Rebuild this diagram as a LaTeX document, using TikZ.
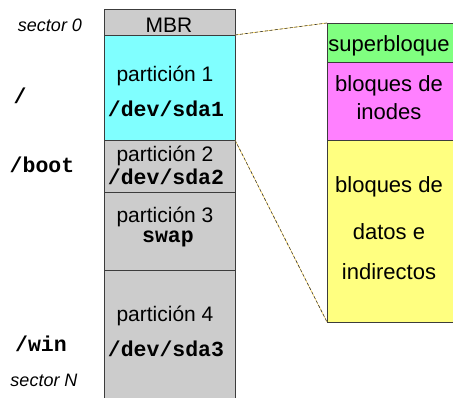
\documentclass[tikz,border=0pt]{standalone}
\usepackage{fontspec}
\setmainfont{Liberation Sans}
\setmonofont{Liberation Mono}
\definecolor{diskgray}{RGB}{204,204,204}
\definecolor{pcyan}{RGB}{128,255,255}
\definecolor{pgreen}{RGB}{128,255,128}
\definecolor{pmagenta}{RGB}{255,128,255}
\definecolor{pyellow}{RGB}{255,255,128}
\definecolor{edge}{RGB}{60,60,60}
\begin{document}
\begin{tikzpicture}[x=1pt,y=-1pt,
  blk/.style={draw=edge,line width=0.8pt,inner sep=0pt,outer sep=0pt,anchor=north west},
  txt/.style={anchor=base,inner sep=0pt,font=\fontsize{21}{25}\selectfont},
  rtxt/.style={anchor=base,inner sep=0pt,font=\fontsize{22}{26}\selectfont},
  mono/.style={anchor=base,inner sep=0pt,font=\fontsize{21.5}{25}\selectfont\ttfamily\bfseries},
  sect/.style={anchor=base,inner sep=0pt,font=\fontsize{18}{21}\selectfont\itshape},
  zoomline/.style={pyellow!70!orange,line width=0.6pt},
  zoomdash/.style={edge,line width=0.6pt,dash pattern=on 3pt off 2pt}]
\useasboundingbox (0,0) rectangle (453,398);
\begin{scope}
\clip (0,0) rectangle (453,398);
% disk partitions
\node[blk,fill=diskgray,minimum width=131pt,minimum height=26pt] (mbr) at (104,9) {};
\node[blk,fill=pcyan,minimum width=131pt,minimum height=105pt] (p1) at (104,35) {};
\node[blk,fill=diskgray,minimum width=131pt,minimum height=52pt] (p2) at (104,140) {};
\node[blk,fill=diskgray,minimum width=131pt,minimum height=78pt] (p3) at (104,192) {};
\node[blk,fill=diskgray,minimum width=131pt,minimum height=140pt] (p4) at (104,270) {};
% file system layout of partition 1
\node[blk,fill=pgreen,minimum width=130pt,minimum height=39pt] (sb) at (327,23) {};
\node[blk,fill=pmagenta,minimum width=130pt,minimum height=78pt] (ino) at (327,62) {};
\node[blk,fill=pyellow,minimum width=130pt,minimum height=182pt] (dat) at (327,140) {};
\end{scope}
% zoom lines
\draw[zoomline] (mbr.south east) -- (sb.north west);
\draw[zoomdash] (mbr.south east) -- (sb.north west);
\draw[zoomline] (p1.south east) -- (dat.south west);
\draw[zoomdash] (p1.south east) -- (dat.south west);
% partition labels
\node[txt] (tmbr) at (169,33) {MBR};
\node[txt] (t1) at (165,81.5) {partición 1};
\node[mono] (d1) at (166,117) {/dev/sda1};
\node[txt] (t2) at (165,162) {partición 2};
\node[mono] (d2) at (166,185) {/dev/sda2};
\node[txt] (t3) at (165,223) {partición 3};
\node[mono] (d3) at (168,243) {swap};
\node[txt] (t4) at (165,322) {partición 4};
\node[mono] (d4) at (166,356) {/dev/sda3};
% block labels
\node[rtxt] (tsb) at (389,52) {superbloque};
\node[rtxt] (ti1) at (389,92) {bloques de};
\node[rtxt] (ti2) at (389,120) {inodes};
\node[rtxt] (td1) at (389,193) {bloques de};
\node[rtxt] (td2) at (389,240) {datos e};
\node[rtxt] (td3) at (389,280) {indirectos};
% mount points and sectors
\node[sect] (s0) at (50,32) {sector 0};
\node[sect] (sn) at (44,387) {sector N};
\node[mono] (mroot) at (20,104) {/};
\node[mono] (mboot) at (42,173) {/boot};
\node[mono] (mwin) at (41,352) {/win};
\end{tikzpicture}
\end{document}
